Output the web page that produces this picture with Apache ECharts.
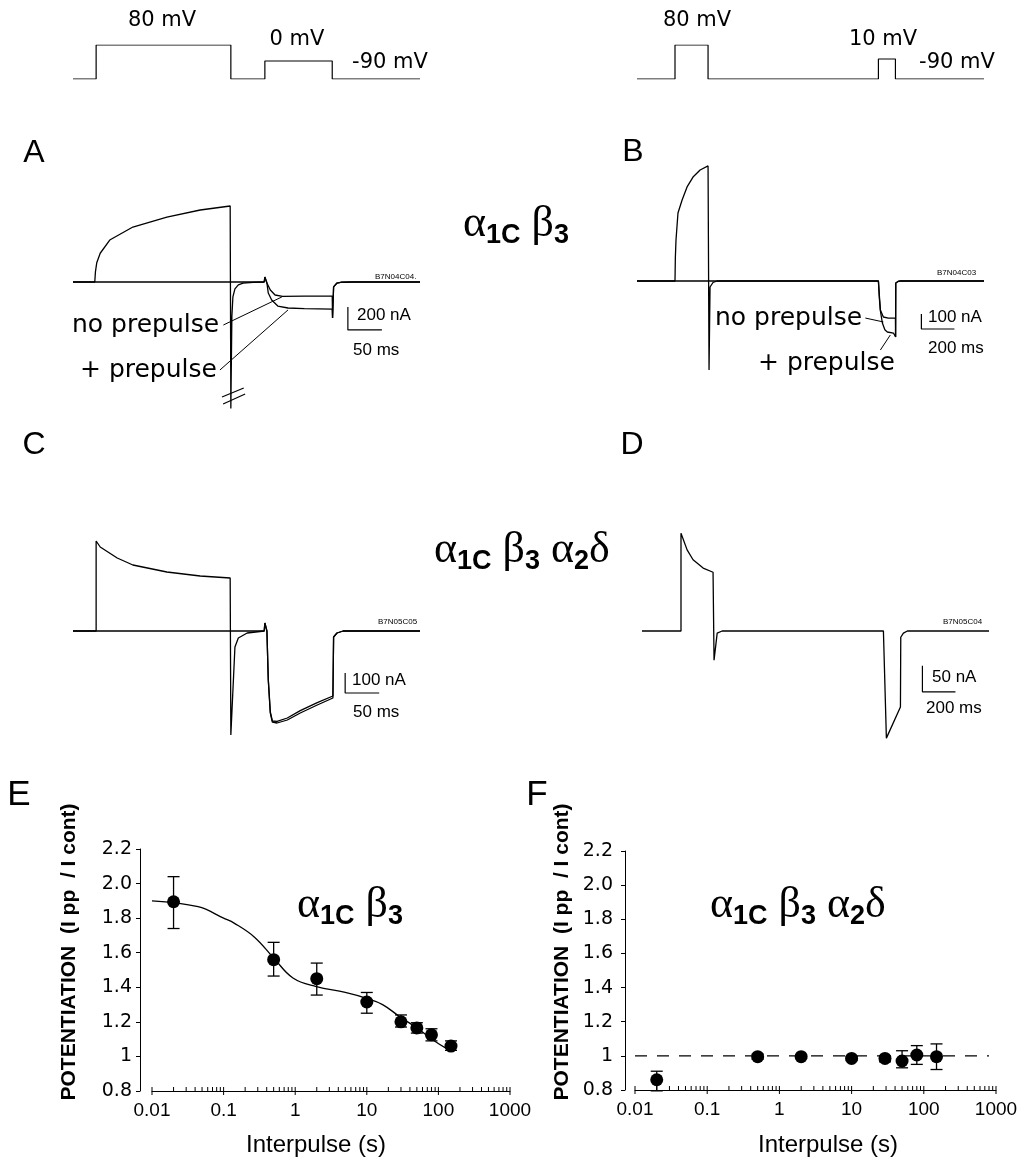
<!DOCTYPE html>
<html>
<head>
<meta charset="utf-8" />
<title>Prepulse potentiation</title>
<script src="https://cdn.jsdelivr.net/npm/echarts@6/dist/echarts.min.js"></script>
<style>
  html, body { margin: 0; padding: 0; background: #fff; }
  #main { width: 1024px; height: 1172px; }
</style>
</head>
<body>
<div id="main"></div>
<script>
// ---- voltage protocols (ms, mV)
var protoLeft = [[0,-90],[34,-90],[34,80],[232,80],[232,-90],[282,-90],[282,0],[381,0],[381,-90],[510,-90]];
var protoRight = [[0,-90],[230,-90],[230,80],[430,80],[430,-90],[1461,-90],[1461,10],[1564,10],[1564,-90],[2100,-90]];

// ---- current traces (ms, nA)
var traceA_pp = [[0,0],[32,0],[33,90],[35,170],[40,250],[54,365],[88,478],[138,565],[187,626],[231,661],[232,-1100],[233.5,-300],[235,-130],[238,-60],[243,-25],[250,-10],[265,-3],[281,0],[282,43],[285,-9],[287,-96],[292,-157],[301,-209],[316,-226],[340,-232],[381,-235],[381.5,-313],[383,-43],[388,-9],[395,-2],[410,0],[510,0]];
var traceA_no = [[0,0],[281,0],[282,43],[285,-9],[290,-70],[297,-113],[308,-125],[340,-122],[381,-122],[381.5,-313],[383,-43],[388,-9],[395,-2],[410,0],[510,0]];
var traceB_pp = [[0,0],[230,0],[232,150],[236,273],[248,453],[273,540],[303,627],[339,693],[382,740],[430,767],[436,-593],[442,-40],[460,-10],[485,0],[1461,0],[1467,-120],[1473,-200],[1485,-280],[1500,-325],[1515,-340],[1552,-347],[1564,-350],[1565,-373],[1566,-13],[1580,-3],[1594,0],[2100,0]];
var traceB_no = [[0,0],[1461,0],[1467,-100],[1473,-193],[1491,-240],[1521,-247],[1564,-247],[1565,-373],[1566,-13],[1580,-3],[1594,0],[2100,0]];
var traceC_pp = [[0,0],[34,0],[34,450],[40,420],[65,365],[88,330],[138,295],[187,275],[231,265],[232,-520],[238,-80],[243,-35],[256,-10],[281,0],[282,40],[285,0],[287,-245],[290,-410],[293,-455],[300,-460],[315,-445],[334,-410],[359,-370],[382,-335],[383,-30],[388,-10],[397,0],[510,0]];
var traceC_no = [[0,0],[281,0],[282,40],[285,0],[287,-240],[290,-405],[293,-450],[300,-452],[315,-435],[334,-398],[359,-358],[382,-325],[383,-30],[388,-10],[397,0],[510,0]];
var traceD = [[0,0],[236,0],[236,188],[273,156],[309,137],[370,121],[430,113],[436,-56],[455,-4],[485,0],[1461,0],[1479,-206],[1564,-146],[1566,-12],[1582,-4],[1606,0],[2100,0]];

// ---- scale bars and pointers (data units of their panel)
var scaleA = [[404,-217],[404,-417],[454,-417]];
var scaleB = [[1721,-220],[1721,-320],[1921,-320]];
var scaleC = [[400,-210],[400,-310],[450,-310]];
var scaleD = [[1697,-67],[1697,-117],[1897,-117]];
var leadersA = [[[221,-374],[307,-130]], [[216,-765],[316,-243]]];
var leadersB = [[[1382,-247],[1491,-273]], [[1473,-460],[1533,-360]]];
var breaksA = [[[219,-1000],[251,-922]], [[220.6,-1061],[253,-974]]];

// ---- potentiation vs interpulse
var interpulseE = [0.02, 0.5, 2, 10, 30, 50, 80, 150];
var potE   = [1.895, 1.56, 1.45, 1.315, 1.20, 1.165, 1.125, 1.06];
var errHiE = [2.04, 1.66, 1.54, 1.37, 1.24, 1.195, 1.16, 1.09];
var errLoE = [1.74, 1.465, 1.355, 1.25, 1.17, 1.135, 1.09, 1.035];
var fitE = [[0.01,1.90],[0.044,1.866],[0.1,1.80],[0.142,1.77],[0.27,1.69],[0.5,1.57],[0.93,1.454],[1.98,1.404],[5,1.37],[9.9,1.336],[16.6,1.30],[28.8,1.23],[50,1.165],[84,1.095],[129,1.047],[150,1.04]];
var interpulseF = [0.02, 0.5, 2, 10, 29, 50, 80, 150];
var potF   = [0.86, 0.995, 0.995, 0.985, 0.985, 0.97, 1.005, 0.995];
var errHiF = [0.91, 1.01, 1.005, 0.995, 1.0, 1.03, 1.06, 1.07];
var errLoF = [0.795, 0.98, 0.985, 0.975, 0.965, 0.93, 0.95, 0.92];
var unityF = [[0.01,1],[800,1]];
var decades = [0.01, 0.1, 1, 10, 100, 1000];
var minorSteps = [2, 3, 4, 5, 6, 7, 8, 9];

var SANS = 'Liberation Sans';
var DJ = 'DejaVu Sans';

function rows(xs, a, b, c) {
  return xs.map(function (x, i) { return [x, a[i], b ? b[i] : null, c ? c[i] : null]; });
}
function pairs(xs, ys) {
  return xs.map(function (x, i) { return [x, ys[i]]; });
}
function minorTickData() {
  var out = [];
  for (var i = 0; i < decades.length - 1; i++)
    minorSteps.forEach(function (k) { out.push([decades[i] * k, 0.8]); });
  return out;
}

function ln(idx, data, w, extra) {
  var s = { type: 'line', xAxisIndex: idx, yAxisIndex: idx, data: data, symbol: 'none',
    silent: true, lineStyle: { color: '#000', width: w || 1.2 } };
  for (var k in extra) s[k] = extra[k];
  return s;
}

function errBars(params, api) {
  var x = api.value(0);
  var top = api.coord([x, api.value(2)]);
  var bot = api.coord([x, api.value(3)]);
  var w = 6, st = { stroke: '#000', lineWidth: 1.3 };
  return { type: 'group', children: [
    { type: 'line', shape: { x1: top[0], y1: top[1], x2: bot[0], y2: bot[1] }, style: st },
    { type: 'line', shape: { x1: top[0] - w, y1: top[1], x2: top[0] + w, y2: top[1] }, style: st },
    { type: 'line', shape: { x1: bot[0] - w, y1: bot[1], x2: bot[0] + w, y2: bot[1] }, style: st }
  ]};
}

function hiddenX(i, max) { return { type: 'value', gridIndex: i, min: 0, max: max, show: false }; }
function hiddenY(i, min, max) { return { type: 'value', gridIndex: i, min: min, max: max, show: false }; }

function logX(i) {
  return { type: 'log', gridIndex: i, logBase: 10, min: 0.01, max: 1000, splitNumber: 5,
    axisLine: { show: true, onZero: false, lineStyle: { color: '#000', width: 1 } },
    axisTick: { show: false },
    splitLine: { show: false },
    axisLabel: { color: '#000', fontFamily: SANS, fontSize: 19, margin: 10,
      showMinLabel: true, showMaxLabel: true,
      formatter: function (v) { return String(+(+v).toPrecision(3)); } } };
}
function potY(i, offset, margin) {
  return { type: 'value', gridIndex: i, min: 0.8, max: 2.2, interval: 0.2, offset: offset,
    axisLine: { show: true, lineStyle: { color: '#000', width: 1 } },
    axisTick: { show: true, length: 4, lineStyle: { color: '#000' } },
    splitLine: { show: false },
    axisLabel: { color: '#000', fontFamily: DJ, fontSize: 19, margin: margin,
      formatter: function (v) { return Math.abs(v - 1) < 1e-9 ? '1' : v.toFixed(1); } } };
}

function tickSeries(i) {
  var major = decades.map(function (d) { return [d, 0.8]; });
  return [
    { type: 'scatter', xAxisIndex: i, yAxisIndex: i, data: minorTickData(), symbol: 'rect',
      symbolSize: [1, 4], symbolOffset: [0, -2], itemStyle: { color: '#000', opacity: 1 }, silent: true, clip: false },
    { type: 'scatter', xAxisIndex: i, yAxisIndex: i, data: major, symbol: 'rect',
      symbolSize: [1, 8], itemStyle: { color: '#000', opacity: 1 }, silent: true, clip: false }
  ];
}

function txt(x, y, text, size, opts) {
  opts = opts || {};
  return { type: 'text', x: x, y: y, rotation: opts.rot || 0, silent: true,
    style: { text: text, fill: '#000', fontSize: size, fontFamily: opts.family || SANS,
      fontWeight: opts.bold ? 'bold' : 'normal',
      align: opts.align || 'left', verticalAlign: 'middle',
      textAlign: opts.align || 'left', textVerticalAlign: 'middle' } };
}
var greekRich = {
  g: { fontFamily: 'Liberation Serif', fontSize: 44, lineHeight: 50, verticalAlign: 'middle', fill: '#000' },
  s: { fontFamily: SANS, fontWeight: 'bold', fontSize: 27, lineHeight: 20, verticalAlign: 'bottom', fill: '#000' }
};
function greek(x, y, text) {
  return { type: 'text', x: x, y: y, silent: true,
    style: { text: text, rich: greekRich, fill: '#000', align: 'left', verticalAlign: 'middle',
      textAlign: 'left', textVerticalAlign: 'middle' } };
}
var labelB3 = '{g|α}{s|1C}{g| β}{s|3}';
var labelB3A2D = '{g|α}{s|1C}{g| β}{s|3}{g| α}{s|2}{g|δ}';
var yName = 'POTENTIATION  (I pp  / I cont)';

var chart = echarts.init(document.getElementById('main'), null, { renderer: 'canvas' });

var series = [
  ln(0, protoLeft, 1.2), ln(1, protoRight, 1.2),
  ln(2, traceA_pp, 1.3), ln(2, traceA_no, 1.3), ln(2, scaleA, 1.2),
  ln(2, leadersA[0], 1), ln(2, leadersA[1], 1), ln(2, breaksA[0], 1.2), ln(2, breaksA[1], 1.2),
  ln(3, traceB_pp, 1.3), ln(3, traceB_no, 1.3), ln(3, scaleB, 1.2),
  ln(3, leadersB[0], 1), ln(3, leadersB[1], 1),
  ln(4, traceC_pp, 1.3), ln(4, traceC_no, 1.3), ln(4, scaleC, 1.2),
  ln(5, traceD, 1.3), ln(5, scaleD, 1.2),
  ln(6, fitE, 1.3, { smooth: 0.4 }),
  { type: 'custom', xAxisIndex: 6, yAxisIndex: 6, renderItem: errBars, data: rows(interpulseE, potE, errHiE, errLoE),
    encode: { x: 0, y: [1, 2, 3] }, silent: true, z: 3 },
  { type: 'scatter', xAxisIndex: 6, yAxisIndex: 6, data: pairs(interpulseE, potE),
    symbol: 'circle', symbolSize: 13, itemStyle: { color: '#000', opacity: 1 }, silent: true, z: 4 },
  ln(7, unityF, 1.2, { lineStyle: { color: '#000', width: 1.2, type: [12, 10] } }),
  { type: 'custom', xAxisIndex: 7, yAxisIndex: 7, renderItem: errBars, data: rows(interpulseF, potF, errHiF, errLoF),
    encode: { x: 0, y: [1, 2, 3] }, silent: true, z: 3 },
  { type: 'scatter', xAxisIndex: 7, yAxisIndex: 7, data: pairs(interpulseF, potF),
    symbol: 'circle', symbolSize: 13, itemStyle: { color: '#000', opacity: 1 }, silent: true, z: 4 }
].concat(tickSeries(6), tickSeries(7));

var option = {
  backgroundColor: '#fff',
  animation: false,
  grid: [
    { left: 73, top: 45, width: 347, height: 34 },
    { left: 637, top: 45, width: 347, height: 34 },
    { left: 73, top: 190, width: 347, height: 218.5 },
    { left: 637, top: 161, width: 347, height: 213 },
    { left: 73, top: 531, width: 347, height: 212 },
    { left: 642, top: 527, width: 347, height: 218.4 },
    { left: 152, top: 849, width: 358, height: 242 },
    { left: 635, top: 851, width: 361, height: 239 }
  ],
  xAxis: [hiddenX(0, 510), hiddenX(1, 2100), hiddenX(2, 510), hiddenX(3, 2100),
          hiddenX(4, 510), hiddenX(5, 2100), logX(6), logX(7)],
  yAxis: [hiddenY(0, -90, 80), hiddenY(1, -90, 80), hiddenY(2, -1100, 800), hiddenY(3, -620, 800),
          hiddenY(4, -560, 500), hiddenY(5, -220, 200), potY(6, 12, 8), potY(7, 10, 12)],
  series: series,
  graphic: [
    // protocol labels
    txt(162, 21, '80 mV', 21, { family: DJ, align: 'center' }),
    txt(297, 40, '0 mV', 21, { family: DJ, align: 'center' }),
    txt(390, 63, '-90 mV', 21, { family: DJ, align: 'center' }),
    txt(697, 21, '80 mV', 21, { family: DJ, align: 'center' }),
    txt(883, 40, '10 mV', 21, { family: DJ, align: 'center' }),
    txt(957, 63, '-90 mV', 21, { family: DJ, align: 'center' }),
    // panel letters
    txt(34, 153, 'A', 32, { align: 'center' }),
    txt(633, 152, 'B', 32, { align: 'center' }),
    txt(34, 445, 'C', 32, { align: 'center' }),
    txt(632, 445, 'D', 32, { align: 'center' }),
    txt(19, 795, 'E', 35, { align: 'center' }),
    txt(537, 795, 'F', 35, { align: 'center' }),
    // trace annotations
    txt(72, 325, 'no prepulse', 25, { family: DJ }),
    txt(80, 370, '+ prepulse', 25, { family: DJ }),
    txt(715, 318, 'no prepulse', 25, { family: DJ }),
    txt(758, 363, '+ prepulse', 25, { family: DJ }),
    txt(357, 315, '200 nA', 17), txt(353, 350, '50 ms', 17),
    txt(928, 317, '100 nA', 17), txt(928, 348, '200 ms', 17),
    txt(352, 680, '100 nA', 17), txt(353, 712, '50 ms', 17),
    txt(932, 677, '50 nA', 17), txt(926, 708, '200 ms', 17),
    txt(375, 277, 'B7N04C04.', 8), txt(937, 273, 'B7N04C03', 8),
    txt(378, 622, 'B7N05C05', 8), txt(943, 622, 'B7N05C04', 8),
    // subunit labels
    greek(463, 224, labelB3),
    greek(434, 550, labelB3A2D),
    greek(297, 905, labelB3),
    greek(710, 905, labelB3A2D),
    // axis names
    txt(316, 1145, 'Interpulse (s)', 24, { align: 'center' }),
    txt(828, 1145, 'Interpulse (s)', 24, { align: 'center' }),
    txt(69, 952, yName, 21, { bold: true, align: 'center', rot: Math.PI / 2 }),
    txt(562, 952, yName, 21, { bold: true, align: 'center', rot: Math.PI / 2 })
  ]
};
chart.setOption(option);
</script>
</body>
</html>
